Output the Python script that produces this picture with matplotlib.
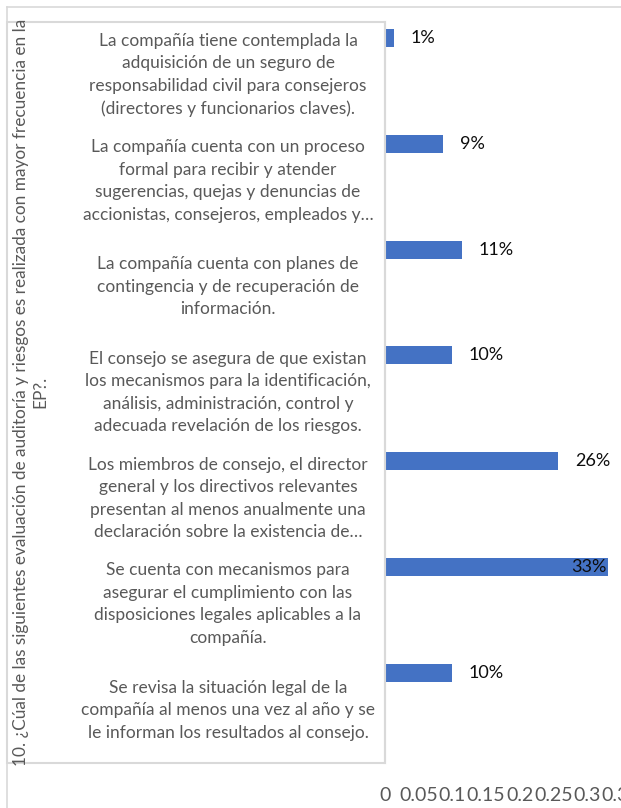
import matplotlib
matplotlib.use("Agg")
import matplotlib.pyplot as plt
from matplotlib.transforms import blended_transform_factory
from matplotlib.lines import Line2D
from matplotlib.patches import Rectangle

plt.rcParams['font.family'] = ['Lato', 'DejaVu Sans']

categories = [
    "La compañía tiene contemplada la\nadquisición de un seguro de\nresponsabilidad civil para consejeros\n(directores y funcionarios claves).",
    "La compañía cuenta con un proceso\nformal para recibir y atender\nsugerencias, quejas y denuncias de\naccionistas, consejeros, empleados y…",
    "La compañía cuenta con planes de\ncontingencia y de recuperación de\ninformación.",
    "El consejo se asegura de que existan\nlos mecanismos para la identificación,\nanálisis, administración, control y\nadecuada revelación de los riesgos.",
    "Los miembros de consejo, el director\ngeneral y los directivos relevantes\npresentan al menos anualmente una\ndeclaración sobre la existencia de…",
    "Se cuenta con mecanismos para\nasegurar el cumplimiento con las\ndisposiciones legales aplicables a la\ncompañía.",
    "Se revisa la situación legal de la\ncompañía al menos una vez al año y se\nle informan los resultados al consejo.",
]
values = [0.013, 0.086, 0.114, 0.099, 0.257, 0.331, 0.099]
xticks = [0, 0.05, 0.1, 0.15, 0.2, 0.25, 0.3, 0.35]
xticklabels = ["0", "0.05", "0.1", "0.15", "0.2", "0.25", "0.3", "0.35"]
title = ("10. ¿Cúal de las siguientes evaluación de auditoría y riesgos es realizada con mayor frecuencia en la\nEP?.")

W, H = 621, 808
fig = plt.figure(figsize=(W / 100, H / 100), dpi=100)

gray = "#D9D9D9"
textgray = "#595959"

# outer chart border (top + left)
fig.add_artist(Line2D([7 / W, 1.0], [1 - 7 / H, 1 - 7 / H], transform=fig.transFigure, color=gray, lw=1.2))
fig.add_artist(Line2D([7 / W, 7 / W], [0, 1 - 7 / H], transform=fig.transFigure, color=gray, lw=1.2))
# label box
fig.add_artist(Rectangle((7 / W, 1 - 763 / H), (385 - 7) / W, (763 - 22) / H, transform=fig.transFigure,
                         fill=False, edgecolor=gray, lw=1.5))

ax = fig.add_axes([385 / W, 1 - 763 / H, (W - 385) / W, (763 - 22) / H])
ax.set_xlim(0, 0.35)
ax.set_ylim(len(categories) - 0.5, -0.5)

ypos = [i - 0.35 for i in range(len(categories))]
bars = ax.barh(ypos, values, height=0.17, color="#4472C4", zorder=3)

for y, v in zip(ypos, values):
    lab = f"{round(v * 100):.0f}%"
    if v > 0.3:
        ax.text(v - 0.002, y, lab, ha="right", va="center", fontsize=13, color="#0d0d0d")
    else:
        ax.text(v + 0.025, y, lab, ha="left", va="center", fontsize=13, color="#0d0d0d")

for s in ["top", "right", "bottom"]:
    ax.spines[s].set_visible(False)
ax.spines["left"].set_color(gray)
ax.spines["left"].set_linewidth(1.5)
ax.set_yticks([])
ax.set_xticks(xticks)
ax.set_xticklabels(xticklabels)
ax.tick_params(axis="x", length=0, pad=17, labelsize=14, labelcolor=textgray)

trans = blended_transform_factory(ax.transAxes, ax.transData)
for i, c in enumerate(categories):
    ax.text((228 - 385) / (W - 385), i, c, transform=trans, ha="center", va="center",
            multialignment="center", fontsize=12.5, color=textgray, linespacing=1.5, clip_on=False)

fig.text(31 / W, 1 - 392 / H, title, rotation=90, ha="center", va="center", multialignment="center",
         fontsize=12.4, color=textgray, linespacing=1.24)

fig.savefig("out.png", dpi=100)
